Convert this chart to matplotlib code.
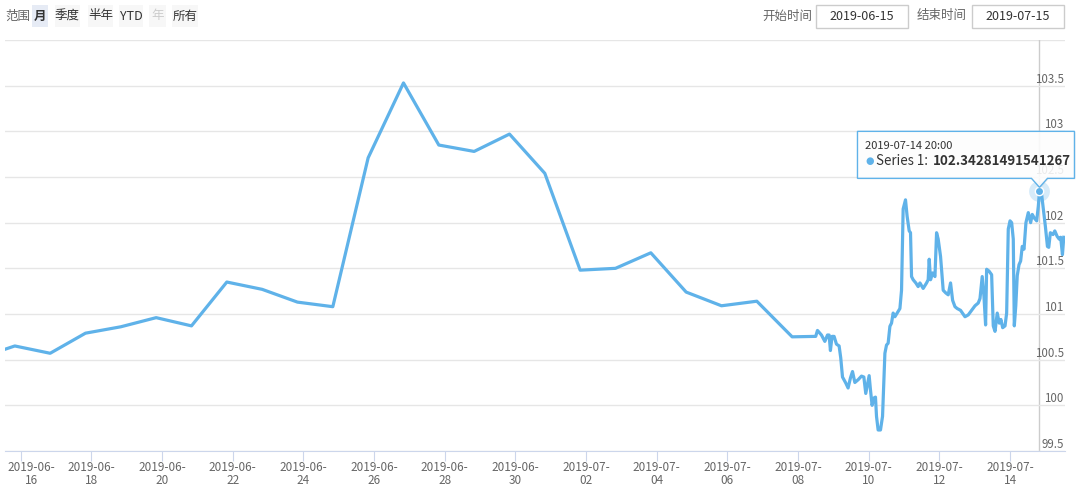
import matplotlib
matplotlib.use('Agg')
import matplotlib.pyplot as plt
import matplotlib.dates as mdates
import matplotlib.transforms as mtrans
from matplotlib.patches import Rectangle, Polygon
import numpy as np
import pandas as pd

plt.rcParams['font.family'] = ['Noto Sans CJK SC', 'DejaVu Sans']

# daily points (stamped 20:00 of each date)
daily_dates = ['2019-06-14', '2019-06-15', '2019-06-16', '2019-06-17', '2019-06-18',
               '2019-06-19', '2019-06-20', '2019-06-21', '2019-06-22', '2019-06-23',
               '2019-06-24', '2019-06-25', '2019-06-26', '2019-06-27', '2019-06-28',
               '2019-06-29', '2019-06-30', '2019-07-01', '2019-07-02', '2019-07-03',
               '2019-07-04', '2019-07-05', '2019-07-06', '2019-07-07']
daily_values = [100.52, 100.65, 100.57, 100.79, 100.86, 100.96, 100.87, 101.35,
                101.27, 101.13, 101.08, 102.71, 103.53, 102.85, 102.78, 102.97,
                102.54, 101.48, 101.50, 101.67, 101.24, 101.09, 101.14, 100.75]

# intraday points, hours after 2019-07-08 00:00
hourly_start = '2019-07-08'
hourly_hours = [12.0, 13.2, 15.9, 18.2, 20.0, 21.1, 22.0, 23.1, 24.5, 26.1, 27.9, 29.0,
                30.2, 32.4, 34.0, 35.6, 37.0, 38.6, 40.8, 43.1, 44.7, 46.0, 47.2, 48.3,
                49.2, 50.3, 51.5, 52.6, 53.3, 54.4, 56.0, 57.4, 59.0, 60.1, 61.2, 62.4,
                63.5, 64.6, 65.8, 67.3, 69.2, 70.3, 71.4, 73.0, 74.1, 75.5, 76.4, 77.1,
                78.2, 80.0, 81.6, 82.8, 83.9, 85.0, 87.3, 88.4, 89.1, 90.0, 91.4, 93.0,
                94.1, 95.2, 96.8, 98.6, 100.4, 102.0, 103.6, 105.0, 106.6, 108.1, 110.4,
                113.4, 115.6, 117.9, 120.2, 122.4, 123.6, 125.1, 126.3, 127.4, 128.1,
                129.7, 131.5, 132.6, 133.8, 135.3, 136.7, 137.8, 139.0, 140.6, 141.7,
                142.8, 144.0, 145.1, 146.2, 146.9, 147.9, 148.9, 150.1, 151.2, 152.3,
                153.5, 154.8, 156.4, 158.0, 159.1, 160.5, 162.1, 163.2, 164.0, 165.3,
                166.4, 168.0, 169.4, 170.3, 171.4, 173.2, 174.4, 176.0, 177.4, 178.4,
                179.6, 180.5]
hourly_values = [100.755, 100.82, 100.77, 100.70, 100.77, 100.77, 100.60, 100.755,
                 100.755, 100.67, 100.65, 100.52, 100.31, 100.245, 100.19, 100.30,
                 100.37, 100.25, 100.28, 100.32, 100.31, 100.13, 100.23, 100.325,
                 100.17, 100.0, 100.08, 100.09, 99.88, 99.73, 99.73, 99.88, 100.57,
                 100.66, 100.68, 100.865, 100.90, 101.01, 100.97, 101.01, 101.06,
                 101.26, 102.15, 102.25, 102.07, 101.91, 101.89, 101.41, 101.375,
                 101.34, 101.30, 101.34, 101.31, 101.28, 101.34, 101.375, 101.60,
                 101.375, 101.45, 101.41, 101.89, 101.82, 101.63, 101.26, 101.23,
                 101.21, 101.34, 101.15, 101.08, 101.06, 101.04, 100.97, 100.99,
                 101.04, 101.09, 101.12, 101.17, 101.41, 101.19, 100.88, 101.49,
                 101.47, 101.43, 100.87, 100.81, 101.01, 100.90, 100.94, 100.85,
                 100.87, 101.01, 101.93, 102.02, 102.0, 101.82, 100.87, 101.09,
                 101.42, 101.54, 101.58, 101.74, 101.71, 102.0, 102.11, 102.0,
                 102.09, 102.05, 102.02, 102.18, 102.34281491541267, 102.33, 102.18,
                 101.96, 101.74, 101.73, 101.89, 101.87, 101.91, 101.85, 101.82,
                 101.84, 101.65, 101.84]

tip_hour = 164.0
y_ticks = [99.5, 100, 100.5, 101, 101.5, 102, 102.5, 103, 103.5]
range_buttons = ['月', '季度', '半年', 'YTD', '年', '所有']
start_date = '2019-06-15'
end_date = '2019-07-15'

W, H = 1080, 494
line_c = '#5fb2e9'

times = list(pd.to_datetime(daily_dates) + pd.Timedelta(hours=20)) + \
    list(pd.Timestamp(hourly_start) + pd.to_timedelta(hourly_hours, unit='h'))
values = daily_values + hourly_values

fig = plt.figure(figsize=(W / 100, H / 100), dpi=100)
ax = fig.add_axes([5 / W, 43 / H, 1060 / W, 411 / H])

ax.plot(times, values, color=line_c, lw=2.3, solid_joinstyle='round', zorder=3)

ax.set_xlim(pd.Timestamp('2019-06-15 13:20'), pd.Timestamp('2019-07-15 13:20'))
ax.set_ylim(99.5, 104)

for s in ['top', 'left', 'right']:
    ax.spines[s].set_visible(False)
ax.spines['bottom'].set_color('#ccd6eb')

ax.set_yticks(y_ticks)
ax.set_yticklabels([f'{v:g}' for v in y_ticks])
ax.grid(axis='y', color='#e6e6e6', lw=1, zorder=0)
ax.axhline(104, color='#e6e6e6', lw=1, zorder=0)
ax.tick_params(axis='y', length=0, pad=-1, labelleft=False, labelright=True,
               labelsize=8.3, labelcolor='#666666')
for lab in ax.get_yticklabels():
    lab.set_ha('right')
    lab.set_va('bottom')

xt = pd.date_range('2019-06-16', '2019-07-14', freq='2D')
ax.set_xticks(xt)
ax.set_xticklabels([f'{d:%Y-%m-}\n{d:%d}' for d in xt])
ax.tick_params(axis='x', length=7, color='#ccd6eb', labelcolor='#666666',
               labelsize=8.5, pad=0)
for lab in ax.get_xticklabels():
    lab.set_linespacing(1.05)
first = ax.get_xticklabels()[0]
first.set_transform(first.get_transform() +
                    mtrans.ScaledTranslation(0.11, 0, fig.dpi_scale_trans))

# hovered point + tooltip
ti = hourly_hours.index(tip_hour)
tip_t = pd.Timestamp(hourly_start) + pd.Timedelta(hours=tip_hour)
tip_v = hourly_values[ti]
ax.axvline(tip_t, color='#cccccc', lw=1, zorder=1)
ax.plot([tip_t], [tip_v], 'o', ms=15, color=line_c, alpha=0.25, mec='none', zorder=4)
ax.plot([tip_t], [tip_v], 'o', ms=6, color=line_c, mec='white', mew=1, zorder=5)

pt = fig.dpi_scale_trans + mtrans.ScaledTranslation(mdates.date2num(tip_t), tip_v, ax.transData)
shape = [(-1.82, 0.13), (-0.08, 0.13), (0, 0.04), (0.08, 0.13), (0.35, 0.13),
         (0.35, 0.60), (-1.82, 0.60)]
shadow = Polygon([(x + 0.01, y - 0.01) for x, y in shape], closed=True, transform=pt,
                 facecolor='#000000', alpha=0.06, edgecolor='none', zorder=6, clip_on=False)
ax.add_artist(shadow)
box = Polygon(shape, closed=True, transform=pt, facecolor=(1, 1, 1, 0.88),
              edgecolor=line_c, lw=1, zorder=7, clip_on=False)
ax.add_artist(box)
ax.text(-1.74, 0.455, f'{tip_t:%Y-%m-%d %H:%M}', transform=pt, fontsize=8,
        color='#333333', va='center', ha='left', zorder=8, clip_on=False)
ax.text(-1.74, 0.30, '●', transform=pt, fontsize=7, color=line_c, va='center',
        ha='left', zorder=8, clip_on=False, family='DejaVu Sans')
series_lbl = ax.text(-1.63, 0.30, 'Series 1:', transform=pt, fontsize=9.6,
                     color='#333333', va='center', ha='left', zorder=8, clip_on=False)
ax.annotate(f'{tip_v}', xy=(1, 0.5), xycoords=series_lbl, xytext=(3, 0),
            textcoords='offset points', fontsize=9.6, color='#333333', va='center',
            ha='left', fontweight='bold', zorder=8, annotation_clip=False)


# top controls (pixel coords from top-left)
def px_rect(x0, y0, x1, y1, fc, ec='none'):
    fig.add_artist(Rectangle((x0 / W, 1 - y1 / H), (x1 - x0) / W, (y1 - y0) / H,
                             transform=fig.transFigure, facecolor=fc, edgecolor=ec, lw=1))


def px_text(x, y, s, **kw):
    fig.text(x / W, 1 - y / H, s, va='center', **kw)


px_text(5, 16, '范围', fontsize=9, color='#666666', ha='left')
btn_box = [(32, 48), (55, 80), (88, 113), (119, 143), (149, 166), (172, 198)]
for (x0, x1), name in zip(btn_box, range_buttons):
    sel = name == '月'
    px_rect(x0, 5, x1, 27, '#e6ebf5' if sel else '#f7f7f7')
    col = '#cccccc' if name == '年' else '#333333'
    px_text((x0 + x1) / 2, 16, name, fontsize=9, color=col, ha='center',
            fontweight='bold' if sel else 'normal')

px_text(787, 16, '开始时间', fontsize=9, color='#666666', ha='center')
px_rect(816, 5, 908, 28, 'white', '#cccccc')
px_text(862, 16.5, start_date, fontsize=9, color='#333333', ha='center')
px_text(942, 16, '结束时间', fontsize=9, color='#666666', ha='center')
px_rect(972, 5, 1064, 28, 'white', '#cccccc')
px_text(1018, 16.5, end_date, fontsize=9, color='#333333', ha='center')

fig.savefig('out.png', dpi=100)
